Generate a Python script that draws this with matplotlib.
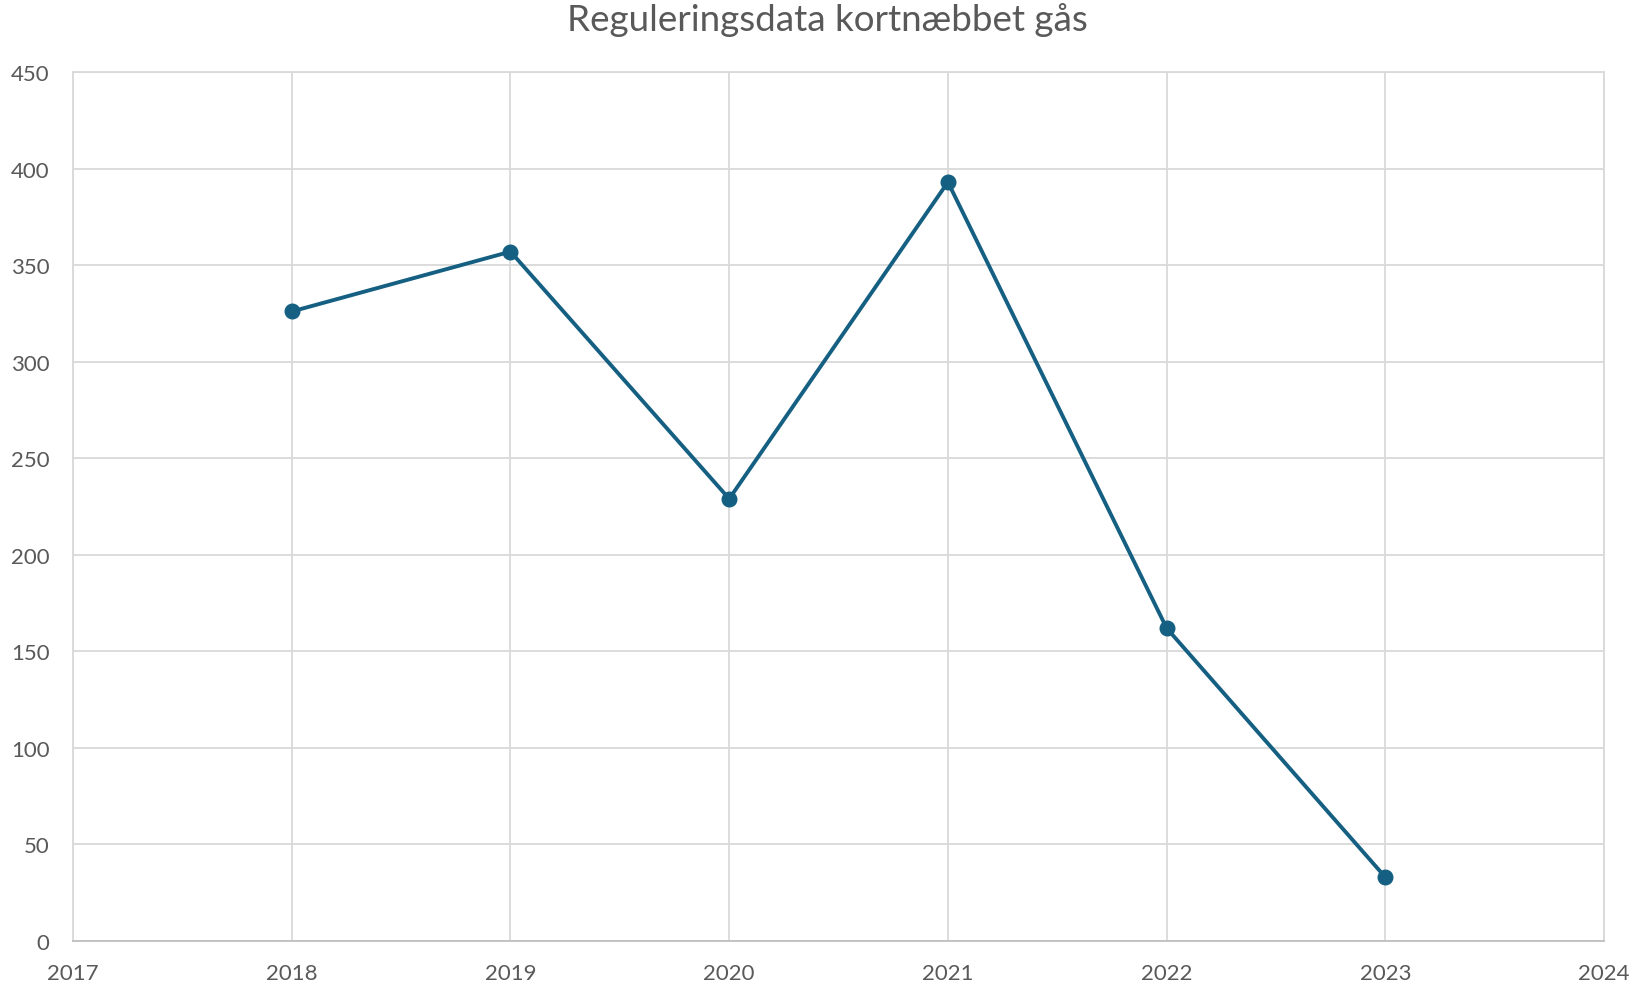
import matplotlib
matplotlib.use("Agg")
import matplotlib.pyplot as plt

# data
years = [2018, 2019, 2020, 2021, 2022, 2023]
counts = [326, 357, 229, 393, 162, 33]
x_ticks = [2017, 2018, 2019, 2020, 2021, 2022, 2023, 2024]
y_ticks = [0, 50, 100, 150, 200, 250, 300, 350, 400, 450]

plt.rcParams['font.family'] = ['Lato', 'DejaVu Sans']
text_col = '#595959'
grid_col = '#d9d9d9'
line_col = '#156082'

fig = plt.figure(figsize=(16.38, 9.87), dpi=100)
ax = fig.add_axes([0.0446, 0.0456, 0.9347, 0.8804])

ax.plot(years, counts, color=line_col, lw=2.8, marker='o', ms=10.5, zorder=3,
        clip_on=False)

ax.set_xlim(2017, 2024)
ax.set_ylim(0, 450)
ax.set_xticks(x_ticks)
ax.set_yticks(y_ticks)
ax.grid(True, color=grid_col, lw=1.3)
ax.set_axisbelow(True)
for side in ['top', 'right', 'left']:
    ax.spines[side].set_color(grid_col)
    ax.spines[side].set_linewidth(1.3)
ax.spines['bottom'].set_color('#bfbfbf')
ax.spines['bottom'].set_linewidth(1.3)
ax.tick_params(length=0, labelsize=16, colors=text_col)
ax.tick_params(axis='x', pad=15.5)
ax.tick_params(axis='y', pad=17)

fig.text(0.505, 0.997, 'Reguleringsdata kortnæbbet gås', ha='center', va='top',
         fontsize=26.5, color=text_col)

fig.savefig('out.png', dpi=100)
